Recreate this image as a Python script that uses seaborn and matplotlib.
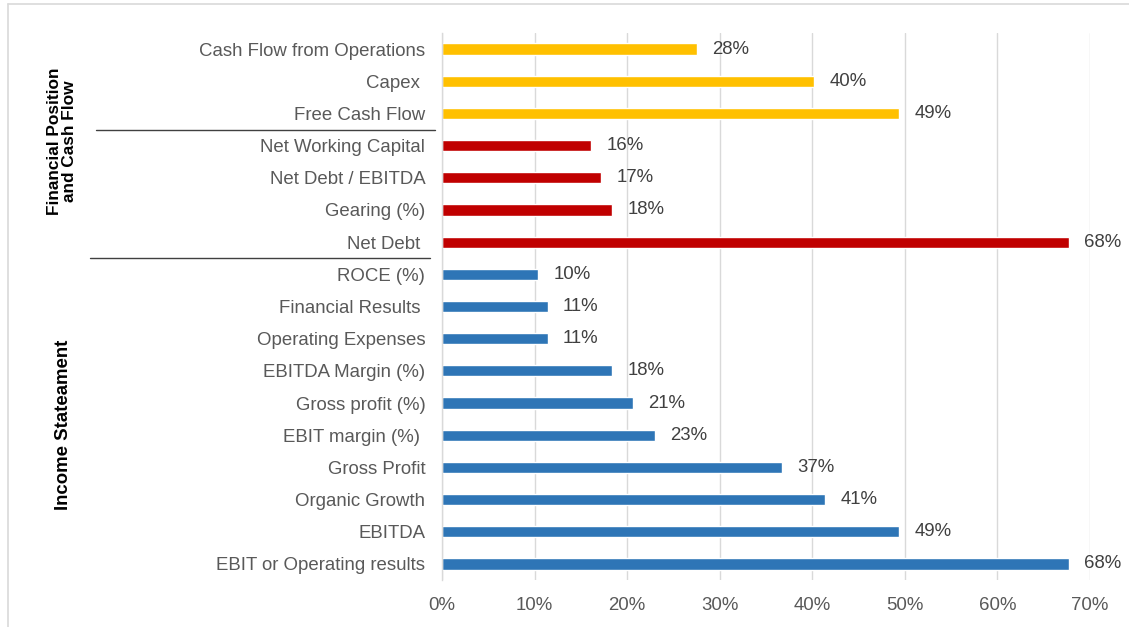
import matplotlib
matplotlib.use("Agg")
import matplotlib.pyplot as plt
import matplotlib.transforms as mtransforms
from matplotlib.lines import Line2D
import seaborn as sns
import pandas as pd

categories = [
    "Cash Flow from Operations", "Capex ", "Free Cash Flow",
    "Net Working Capital", "Net Debt / EBITDA", "Gearing (%)", "Net Debt ",
    "ROCE (%)", "Financial Results ", "Operating Expenses", "EBITDA Margin (%)",
    "Gross profit (%)", "EBIT margin (%) ", "Gross Profit", "Organic Growth",
    "EBITDA", "EBIT or Operating results",
]
values = [27.5, 40.2, 49.4, 16.1, 17.2, 18.4, 67.7, 10.4, 11.4, 11.4,
          18.4, 20.6, 23.0, 36.7, 41.4, 49.4, 67.7]
groups = (["Cash Flow"] * 3 + ["Financial Position"] * 4 + ["Income Statement"] * 10)
palette = {"Cash Flow": "#FFC000", "Financial Position": "#C00000",
           "Income Statement": "#2E75B6"}
xticks = [0, 10, 20, 30, 40, 50, 60, 70]

df = pd.DataFrame({"cat": categories, "val": [v / 100 for v in values], "grp": groups})

sns.set_theme(style="white")
plt.rcParams["font.family"] = ["Liberation Sans", "DejaVu Sans"]

fig = plt.figure(figsize=(11.29, 6.27), dpi=100)
W, H = 1129, 627
ax = fig.add_axes([442 / W, 1 - 580 / H, (1090 - 442) / W, (580 - 33) / H])

sns.barplot(data=df, y="cat", x="val", hue="grp", palette=palette, dodge=False,
            width=0.35, orient="h", legend=False, ax=ax, saturation=1)

FS = 13.4
for cont in ax.containers:
    ax.bar_label(cont, labels=[f"{round(b.get_width() * 100):.0f}%" for b in cont],
                 padding=11, fontsize=FS, color="#404040")

ax.set_xlim(0, 0.7)
ax.set_ylim(len(categories) - 0.5, -0.5)
ax.set_xticks([t / 100 for t in xticks])
ax.set_xticklabels([f"{t}%" for t in xticks])
ax.xaxis.grid(True, color="#D9D9D9", linewidth=1)
ax.set_axisbelow(True)
ax.set_xlabel("")
ax.set_ylabel("")
ax.tick_params(axis="x", length=0, labelsize=FS, labelcolor="#595959", pad=12)
ax.tick_params(axis="y", length=0, labelsize=FS, labelcolor="#595959", pad=12)
for s in ["top", "right", "bottom"]:
    ax.spines[s].set_visible(False)
ax.spines["left"].set_color("#D9D9D9")
ax.spines["left"].set_linewidth(1)

# group separators (figure x, data y)
trans = mtransforms.blended_transform_factory(fig.transFigure, ax.transData)
ax.add_line(Line2D([96 / W, 435 / W], [2.5, 2.5], transform=trans, color="#404040",
                   linewidth=1, clip_on=False))
ax.add_line(Line2D([90 / W, 430 / W], [6.5, 6.5], transform=trans, color="#404040",
                   linewidth=1, clip_on=False))

fig.text(62 / W, 1 - 141 / H, "Financial Position\nand Cash Flow", rotation=90,
         ha="center", va="center", fontsize=12.4, fontweight="bold", color="black",
         linespacing=1.0)
fig.text(63 / W, 1 - 425 / H, "Income Stateament", rotation=90,
         ha="center", va="center", fontsize=13.4, fontweight="bold", color="black")

# outer frame (top & left)
fig.add_artist(Line2D([8 / W, 1.0], [1 - 4 / H, 1 - 4 / H], transform=fig.transFigure,
                      color="#D9D9D9", linewidth=1.2))
fig.add_artist(Line2D([8 / W, 8 / W], [0, 1 - 4 / H], transform=fig.transFigure,
                      color="#D9D9D9", linewidth=1.2))

fig.savefig("out.png", dpi=100)
